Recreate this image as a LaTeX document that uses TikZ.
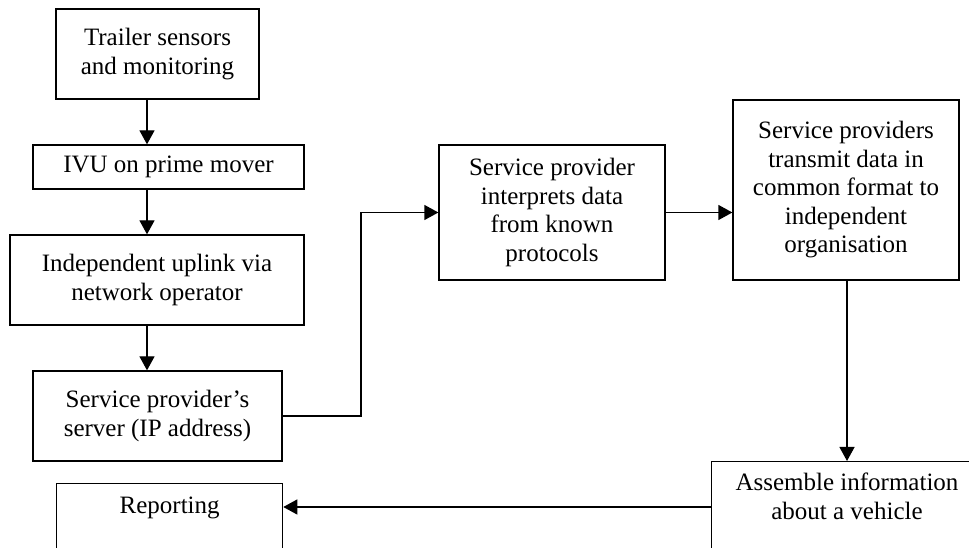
\documentclass[tikz,border=0pt]{standalone}
\usepackage{fontspec}
\setmainfont{Liberation Serif}
\usetikzlibrary{arrows.meta}
\begin{document}
\begin{tikzpicture}[x=1pt,y=1pt,
  box/.style={draw, line width=1.3pt, align=center, inner sep=0pt,
    font=\fontsize{25}{28.5}\selectfont},
  txt/.style={align=center, inner sep=0pt, font=\fontsize{25}{28.5}\selectfont},
  conn/.style={line width=1.3pt, -{Triangle[length=14pt,width=15pt]}}]
\useasboundingbox (0,0) rectangle (969,548);
\clip (0,0) rectangle (969,548);
\node[box, minimum width=203pt, minimum height=90pt] (b1) at (157.5,494) {Trailer sensors\\and monitoring};
\node[box, minimum width=271pt, minimum height=44pt] (b2) at (168.5,381) {IVU on prime mover};
\node[box, minimum width=294pt, minimum height=90pt] (b3) at (157,268) {Independent uplink via\\network operator};
\node[box, minimum width=249pt, minimum height=90pt] (b4) at (157.5,132) {Service provider’s\\server (IP address)};
\node[box, minimum width=226pt, minimum height=135pt] (b5) at (552,335.5) {Service provider\\interprets data\\from known\\protocols};
\node[box, minimum width=226pt, minimum height=180pt] (b6) at (846,358) {Service providers\\transmit data in\\common format to\\independent\\organisation};
\node[box, anchor=north west, minimum width=290pt, minimum height=120pt] (b7) at (711,87) {};
\node[txt, anchor=north] (t7) at ([yshift=-12pt]b7.north -| 847,0) {Assemble information\\about a vehicle};
\node[box, anchor=north west, minimum width=226pt, minimum height=120pt] (b8) at (56,65) {};
\node[txt, anchor=north] (t8) at ([yshift=-14pt]b8.north) {Reporting};
\coordinate (c1) at (361,132);
\coordinate (c2) at (361,335.5);
\draw[conn] (b1.south -| 147,0) -- (b2.north -| 147,0);
\draw[conn] (b2.south -| 147,0) -- (b3.north -| 147,0);
\draw[conn] (b3.south -| 147,0) -- (b4.north -| 147,0);
\draw[conn] (b4.east) -- (c1) -- (c2) -- (b5.west);
\draw[conn] (b5.east) -- (b6.west |- b5.east);
\draw[conn] (b6.south -| 847,0) -- (b7.north -| 847,0);
\draw[conn] (b7.west |- 0,41) -- (b8.east |- 0,41);
\end{tikzpicture}
\end{document}
